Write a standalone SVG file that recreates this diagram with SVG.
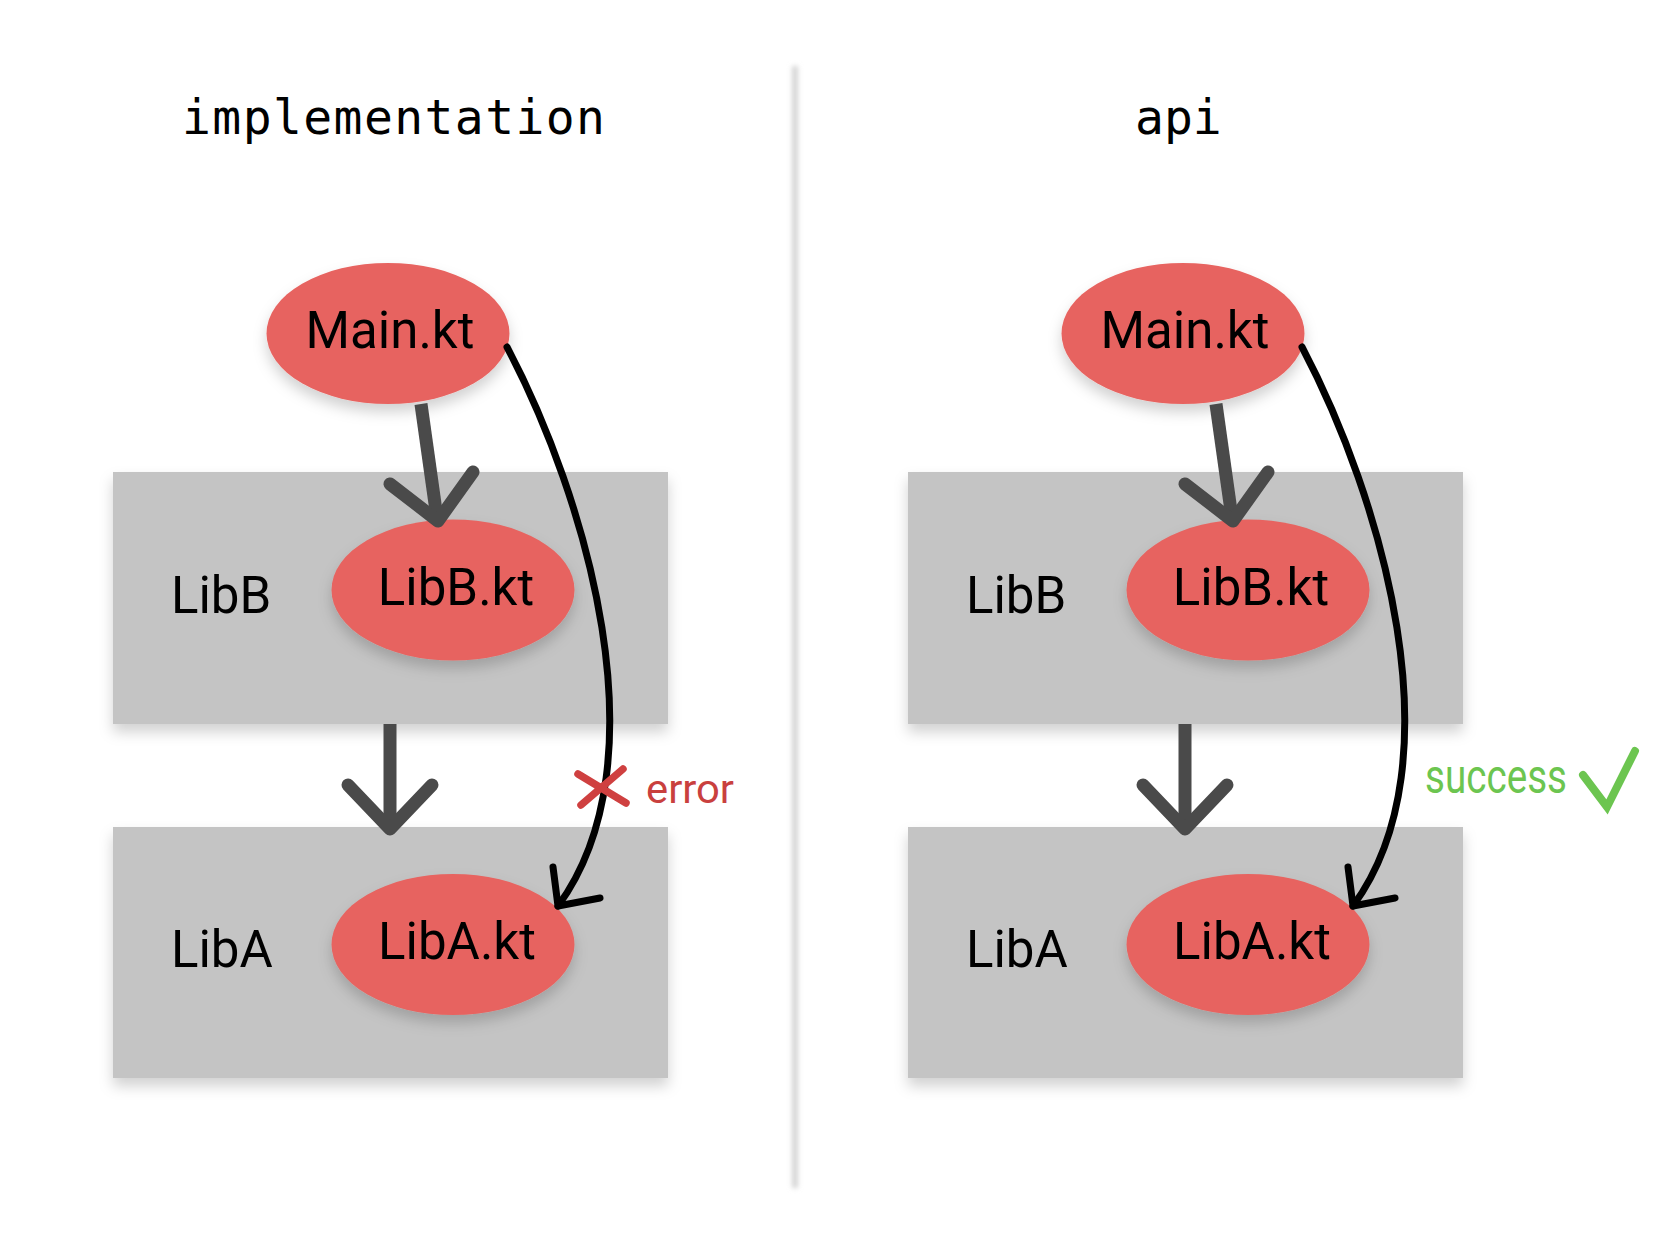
<svg xmlns="http://www.w3.org/2000/svg" width="1671" height="1247" viewBox="0 0 1671 1247">
  <defs>
    <filter id="shadow" x="-20%" y="-20%" width="140%" height="150%">
      <feDropShadow dx="0" dy="8" stdDeviation="7" flood-color="#000" flood-opacity="0.18"/>
    </filter>
    <filter id="blur" filterUnits="userSpaceOnUse" x="770" y="40" width="50" height="1175">
      <feGaussianBlur stdDeviation="2.5"/>
    </filter>
  </defs>
  <style>
    .box { fill: #c4c4c4; filter: url(#shadow); }
    .node { fill: #e76460; filter: url(#shadow); }
    .lbl { font-family: Roboto, "Liberation Sans", sans-serif; font-size: 51px; fill: #000; }
    .mid { text-anchor: middle; }
    .title { font-family: "DejaVu Sans Mono", "Liberation Mono", monospace; font-size: 48px; fill: #000; }
    .dark { fill: none; stroke: #4a4a4a; stroke-width: 13; }
    .head { stroke-linecap: round; stroke-linejoin: round; }
    .curve { fill: none; stroke: #000; stroke-width: 7; stroke-linecap: round; stroke-linejoin: round; }
  </style>
  <rect width="1671" height="1247" fill="#fff"/>

  <g id="divider">
    <rect x="792" y="66" width="6" height="1122" fill="#d4d4d4" filter="url(#blur)"/>
  </g>

  <g id="title-implementation"><text class="title" x="182" y="134" textLength="423">implementation</text></g>
  <g id="title-api"><text class="title" x="1135" y="134">api</text></g>

  <!-- left panel -->
  <g id="left-libB">
    <rect class="box" x="113" y="472" width="555" height="252"/>
    <text class="lbl" x="171" y="613">LibB</text>
  </g>
  <g id="left-libA">
    <rect class="box" x="113" y="827" width="555" height="251"/>
    <text class="lbl" x="171" y="967">LibA</text>
  </g>
  <g id="left-main-kt">
    <ellipse class="node" cx="388" cy="333.5" rx="121.5" ry="70.5"/>
    <text class="lbl mid" x="390" y="348">Main.kt</text>
  </g>
  <g id="left-libB-kt">
    <ellipse class="node" cx="453" cy="590" rx="121.5" ry="70.5"/>
    <text class="lbl mid" x="456" y="605">LibB.kt</text>
  </g>
  <g id="left-libA-kt">
    <ellipse class="node" cx="453" cy="944.5" rx="121.5" ry="70.5"/>
    <text class="lbl mid" x="457" y="959">LibA.kt</text>
  </g>

  <!-- right panel -->
  <g id="right-libB">
    <rect class="box" x="908" y="472" width="555" height="252"/>
    <text class="lbl" x="966" y="613">LibB</text>
  </g>
  <g id="right-libA">
    <rect class="box" x="908" y="827" width="555" height="251"/>
    <text class="lbl" x="966" y="967">LibA</text>
  </g>
  <g id="right-main-kt">
    <ellipse class="node" cx="1183" cy="333.5" rx="121.5" ry="70.5"/>
    <text class="lbl mid" x="1185" y="348">Main.kt</text>
  </g>
  <g id="right-libB-kt">
    <ellipse class="node" cx="1248" cy="590" rx="121.5" ry="70.5"/>
    <text class="lbl mid" x="1251" y="605">LibB.kt</text>
  </g>
  <g id="right-libA-kt">
    <ellipse class="node" cx="1248" cy="944.5" rx="121.5" ry="70.5"/>
    <text class="lbl mid" x="1252" y="959">LibA.kt</text>
  </g>

  <g id="connectors">
    <!-- left -->
    <path class="dark" d="M421,404 L437,518"/>
    <path class="dark head" d="M390,484 L438,521 L473,472"/>
    <path class="dark" d="M390,724 L390,826"/>
    <path class="dark head" d="M348,785 L390,829 L432,785"/>
    <path class="curve" d="M507,347 C585,495 665,760 558,906"/>
    <path class="curve" d="M553,867 L558,906 L600,898"/>
    <!-- right -->
    <path class="dark" d="M1216,404 L1232,518"/>
    <path class="dark head" d="M1185,484 L1233,521 L1268,472"/>
    <path class="dark" d="M1185,724 L1185,826"/>
    <path class="dark head" d="M1143,785 L1185,829 L1227,785"/>
    <path class="curve" d="M1302,347 C1380,495 1460,760 1353,906"/>
    <path class="curve" d="M1348,867 L1353,906 L1395,898"/>
  </g>

  <g id="error-label">
    <path d="M578,774 L626,803 M623,769 L581,805" stroke="#cf4040" stroke-width="7.5" stroke-linecap="round" fill="none"/>
    <text x="646" y="803" font-family="Roboto, 'Liberation Sans', sans-serif" font-size="40" fill="#c9403e" textLength="88" lengthAdjust="spacingAndGlyphs">error</text>
  </g>
  <g id="success-label">
    <text x="1425" y="793" font-family="Roboto, 'Liberation Sans', sans-serif" font-size="49" fill="#6cc550" textLength="142" lengthAdjust="spacingAndGlyphs">success</text>
    <path d="M1583,775 L1607,807 L1635,751" stroke="#6cc550" stroke-width="8" stroke-linecap="round" stroke-linejoin="miter" fill="none"/>
  </g>
</svg>
